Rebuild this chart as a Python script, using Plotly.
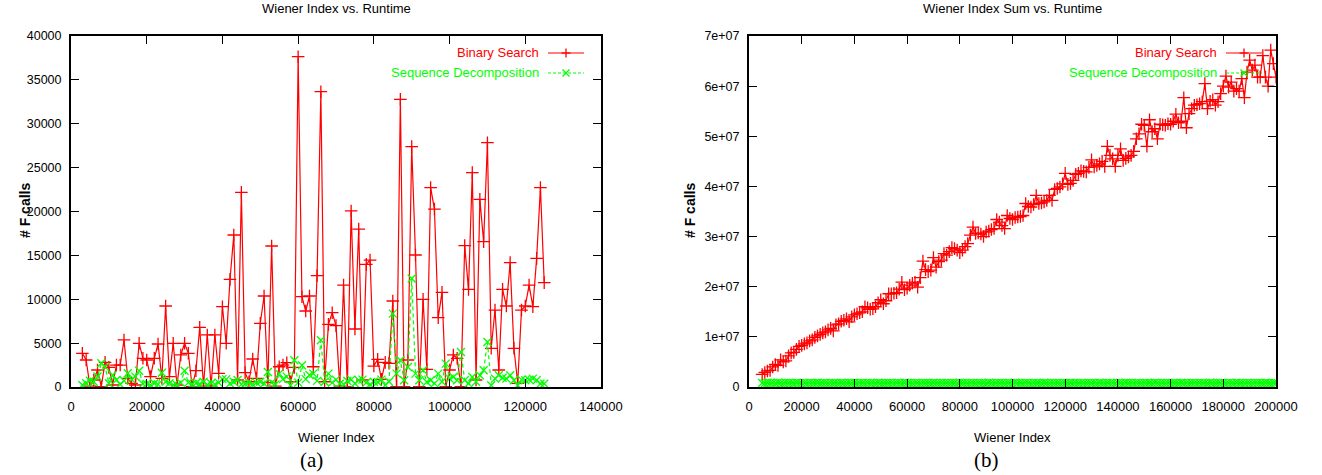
import plotly.graph_objects as go

# ---------------- data ----------------
# (a) Wiener Index vs. Runtime
wiener_a = [3000, 4000, 5000, 6000, 7000, 8000, 9000, 10000, 11000, 12000,
            13000, 14000, 15000, 16000, 17000, 18000, 19000, 20000, 21000, 22000,
            23000, 24000, 25000, 26000, 27000, 28000, 29000, 30000, 31000, 32000,
            33000, 34000, 35000, 36000, 37000, 38000, 39000, 40000, 41000, 42000,
            43000, 44000, 45000, 46000, 47000, 48000, 49000, 50000, 51000, 52000,
            53000, 54000, 55000, 56000, 57000, 58000, 59000, 60000, 61000, 62000,
            63000, 64000, 65000, 66000, 67000, 68000, 69000, 70000, 71000, 72000,
            73000, 74000, 75000, 76000, 77000, 78000, 79000, 80000, 81000, 82000,
            83000, 84000, 85000, 86000, 87000, 88000, 89000, 90000, 91000, 92000,
            93000, 94000, 95000, 96000, 97000, 98000, 99000, 100000, 101000, 102000,
            103000, 104000, 105000, 106000, 107000, 108000, 109000, 110000, 111000, 112000,
            113000, 114000, 115000, 116000, 117000, 118000, 119000, 120000, 121000, 122000,
            123000, 124000, 125000]
binary_a = [3840, 3077, 100, 800, 1940, 50, 2810, 2240, 230, 2500,
            2500, 5360, 990, 420, 230, 4980, 3270, 3077, 1180, 3270,
            4900, 990, 9230, 1180, 4980, 230, 3650, 4980, 3840, 50,
            1860, 6800, 100, 5930, 100, 5930, 1560, 9150, 4980, 12270,
            17320, 800, 22190, 1630, 600, 3190, 990, 7260, 10370, 490,
            16070, 110, 2310, 2500, 2770, 600, 2240, 37640, 10290, 8660,
            10370, 2310, 12690, 33650, 600, 7140, 8470, 6990, 100, 11620,
            50, 20060, 6610, 18000, 800, 13980, 14470, 2390, 3150, 870,
            2810, 2700, 9800, 50, 32780, 50, 3077, 27390, 15040, 50,
            9990, 2010, 22720, 20280, 7900, 10790, 50, 1940, 3650, 3270,
            50, 16110, 11130, 24430, 800, 21380, 16560, 27840, 4410, 8770,
            1940, 11130, 9230, 14170, 4410, 420, 8770, 9230, 11620, 9150,
            14660, 22720, 11890]
seqdec_a = [230, 420, 720, 600, 1200, 2700, 2300, 420, 1370, 800,
            300, 720, 1560, 870, 1180, 1860, 340, 340, 230, 420,
            300, 1630, 600, 420, 230, 230, 500, 1860, 500, 340,
            420, 340, 600, 250, 420, 300, 500, 900, 870, 400,
            600, 800, 300, 350, 500, 300, 500, 600, 400, 1710,
            500, 300, 1520, 900, 1180, 200, 3040, 500, 2470, 900,
            1370, 1520, 700, 5320, 600, 1520, 500, 840, 380, 300,
            680, 840, 400, 760, 840, 500, 300, 600, 570, 840,
            200, 600, 8360, 1520, 3040, 760, 2280, 12360, 1520, 760,
            1900, 570, 760, 400, 1520, 600, 2660, 950, 1140, 760,
            3990, 760, 400, 1140, 600, 1330, 1900, 5130, 190, 950,
            1330, 1060, 950, 1330, 760, 190, 840, 760, 840, 950,
            760, 380, 380]

# (b) Wiener Index Sum vs. Runtime
wiener_b = [5000, 6000, 7000, 8000, 9000, 10000, 11000, 12000, 13000, 14000,
            15000, 16000, 17000, 18000, 19000, 20000, 21000, 22000, 23000, 24000,
            25000, 26000, 27000, 28000, 29000, 30000, 31000, 32000, 33000, 34000,
            35000, 36000, 37000, 38000, 39000, 40000, 41000, 42000, 43000, 44000,
            45000, 46000, 47000, 48000, 49000, 50000, 51000, 52000, 53000, 54000,
            55000, 56000, 57000, 58000, 59000, 60000, 61000, 62000, 63000, 64000,
            65000, 66000, 67000, 68000, 69000, 70000, 71000, 72000, 73000, 74000,
            75000, 76000, 77000, 78000, 79000, 80000, 81000, 82000, 83000, 84000,
            85000, 86000, 87000, 88000, 89000, 90000, 91000, 92000, 93000, 94000,
            95000, 96000, 97000, 98000, 99000, 100000, 101000, 102000, 103000, 104000,
            105000, 106000, 107000, 108000, 109000, 110000, 111000, 112000, 113000, 114000,
            115000, 116000, 117000, 118000, 119000, 120000, 121000, 122000, 123000, 124000,
            125000, 126000, 127000, 128000, 129000, 130000, 131000, 132000, 133000, 134000,
            135000, 136000, 137000, 138000, 139000, 140000, 141000, 142000, 143000, 144000,
            145000, 146000, 147000, 148000, 149000, 150000, 151000, 152000, 153000, 154000,
            155000, 156000, 157000, 158000, 159000, 160000, 161000, 162000, 163000, 164000,
            165000, 166000, 167000, 168000, 169000, 170000, 171000, 172000, 173000, 174000,
            175000, 176000, 177000, 178000, 179000, 180000, 181000, 182000, 183000, 184000,
            185000, 186000, 187000, 188000, 189000, 190000, 191000, 192000, 193000, 194000,
            195000, 196000, 197000, 198000, 199000, 200000]
binary_b = [2.5e6, 2.9e6, 3.2e6, 3.3e6, 4.0e6, 4.5e6, 4.3e6, 5.4e6, 5.0e6, 5.2e6,
            6.2e6, 6.8e6, 6.9e6, 7.5e6, 8.1e6, 8.3e6, 8.6e6, 8.8e6, 9.2e6, 9.4e6,
            9.9e6, 1.02e7, 1.05e7, 1.08e7, 1.10e7, 1.14e7, 1.17e7, 1.12e7, 1.24e7, 1.26e7,
            1.31e7, 1.33e7, 1.36e7, 1.30e7, 1.40e7, 1.44e7, 1.46e7, 1.48e7, 1.50e7, 1.60e7,
            1.58e7, 1.55e7, 1.56e7, 1.60e7, 1.68e7, 1.74e7, 1.66e7, 1.72e7, 1.86e7, 1.86e7,
            1.87e7, 1.88e7, 1.95e7, 2.09e7, 1.94e7, 1.97e7, 2.03e7, 2.07e7, 2.09e7, 1.99e7,
            2.18e7, 2.51e7, 2.34e7, 2.30e7, 2.33e7, 2.58e7, 2.39e7, 2.50e7, 2.53e7, 2.66e7,
            2.63e7, 2.70e7, 2.78e7, 2.76e7, 2.73e7, 2.68e7, 2.73e7, 2.80e7, 2.86e7, 3.03e7,
            3.19e7, 3.06e7, 3.07e7, 3.05e7, 3.00e7, 3.09e7, 3.11e7, 3.14e7, 3.16e7, 3.34e7,
            3.29e7, 3.22e7, 3.16e7, 3.42e7, 3.36e7, 3.34e7, 3.38e7, 3.39e7, 3.40e7, 3.42e7,
            3.66e7, 3.60e7, 3.59e7, 3.64e7, 3.82e7, 3.66e7, 3.67e7, 3.69e7, 3.72e7, 3.82e7,
            3.72e7, 3.94e7, 3.96e7, 3.99e7, 4.05e7, 4.26e7, 4.04e7, 4.06e7, 4.12e7, 4.24e7,
            4.26e7, 4.31e7, 4.30e7, 4.29e7, 4.38e7, 4.53e7, 4.39e7, 4.42e7, 4.45e7, 4.50e7,
            4.40e7, 4.80e7, 4.62e7, 4.55e7, 4.40e7, 4.62e7, 4.75e7, 4.52e7, 4.56e7, 4.59e7,
            4.62e7, 4.70e7, 4.95e7, 5.05e7, 5.24e7, 5.22e7, 4.80e7, 5.33e7, 5.09e7, 5.15e7,
            4.95e7, 5.24e7, 5.23e7, 5.22e7, 5.25e7, 5.24e7, 5.30e7, 5.44e7, 5.27e7, 5.30e7,
            5.77e7, 5.17e7, 5.45e7, 5.55e7, 5.62e7, 5.63e7, 5.65e7, 5.69e7, 6.05e7, 5.55e7,
            5.70e7, 5.73e7, 5.62e7, 5.69e7, 5.85e7, 6.00e7, 6.20e7, 5.98e7, 6.08e7, 5.90e7,
            5.95e7, 5.90e7, 6.15e7, 5.77e7, 6.28e7, 6.52e7, 6.32e7, 6.42e7, 6.18e7, 6.18e7,
            6.61e7, 6.18e7, 6.00e7, 6.72e7, 6.45e7, 6.18e7]
seqdec_b = [8.1e5, 7.6e5, 8.4e5, 7.9e5, 8.2e5, 7.7e5, 8.5e5, 8.0e5, 7.8e5, 8.3e5,
            7.9e5, 8.1e5, 7.6e5, 8.4e5, 8.0e5, 7.8e5, 8.2e5, 7.7e5, 8.3e5, 7.9e5,
            8.1e5, 8.4e5, 7.6e5, 8.0e5, 8.2e5, 7.8e5, 8.3e5, 7.9e5, 8.1e5, 7.7e5,
            8.4e5, 8.0e5, 7.8e5, 8.2e5, 7.9e5, 8.5e5, 7.7e5, 8.1e5, 8.0e5, 7.8e5,
            8.3e5, 7.9e5, 8.2e5, 7.6e5, 8.4e5, 8.0e5, 7.8e5, 8.1e5, 7.9e5, 8.3e5,
            7.7e5, 8.2e5, 8.0e5, 7.8e5, 8.4e5, 7.9e5, 8.1e5, 7.7e5, 8.3e5, 8.0e5,
            7.8e5, 8.2e5, 7.9e5, 8.1e5, 7.6e5, 8.4e5, 8.0e5, 7.8e5, 8.2e5, 7.9e5,
            8.3e5, 7.7e5, 8.1e5, 8.0e5, 7.8e5, 8.4e5, 7.9e5, 8.2e5, 7.7e5, 8.1e5,
            8.0e5, 7.8e5, 8.3e5, 7.9e5, 8.2e5, 7.6e5, 8.4e5, 8.0e5, 7.8e5, 8.1e5,
            7.9e5, 8.3e5, 7.7e5, 8.2e5, 8.0e5, 7.8e5, 8.4e5, 7.9e5, 8.1e5, 7.7e5,
            8.3e5, 8.0e5, 7.8e5, 8.2e5, 7.9e5, 8.1e5, 7.6e5, 8.4e5, 8.0e5, 7.8e5,
            8.2e5, 7.9e5, 8.3e5, 7.7e5, 8.1e5, 8.0e5, 7.8e5, 8.4e5, 7.9e5, 8.2e5,
            7.7e5, 8.1e5, 8.0e5, 7.8e5, 8.3e5, 7.9e5, 8.2e5, 7.6e5, 8.4e5, 8.0e5,
            7.8e5, 8.1e5, 7.9e5, 8.3e5, 7.7e5, 8.2e5, 8.0e5, 7.8e5, 8.4e5, 7.9e5,
            8.1e5, 7.7e5, 8.3e5, 8.0e5, 7.8e5, 8.2e5, 7.9e5, 8.1e5, 7.6e5, 8.4e5,
            8.0e5, 7.8e5, 8.2e5, 7.9e5, 8.3e5, 7.7e5, 8.1e5, 8.0e5, 7.8e5, 8.4e5,
            7.9e5, 8.2e5, 7.7e5, 8.1e5, 8.0e5, 7.8e5, 8.3e5, 7.9e5, 8.2e5, 7.6e5,
            8.4e5, 8.0e5, 7.8e5, 8.1e5, 7.9e5, 8.3e5, 7.7e5, 8.2e5, 8.0e5, 7.8e5,
            8.4e5, 7.9e5, 8.1e5, 7.7e5, 8.3e5, 8.0e5, 7.8e5, 8.2e5, 7.9e5, 8.1e5,
            7.6e5, 8.4e5, 8.0e5, 7.8e5, 8.2e5, 7.9e5]

titles = ["Wiener Index vs. Runtime", "Wiener Index Sum vs. Runtime"]
series_names = ["Binary Search", "Sequence Decomposition"]
x_label = "Wiener Index"
y_label = "# F calls"
panel_labels = ["(a)", "(b)"]
yticks_b = [0, 1e7, 2e7, 3e7, 4e7, 5e7, 6e7, 7e7]
yticktext_b = ["0", "1e+07", "2e+07", "3e+07", "4e+07", "5e+07", "6e+07", "7e+07"]

# ---------------- styling ----------------
W, H = 1322, 475
RED = "#ff0000"
GREEN = "#00ff00"
SANS = "Liberation Sans, Arial, Helvetica, sans-serif"
SERIF = "Liberation Serif, Times New Roman, serif"
FS = 13
GDASH = "4px,3px"

def PX(x):
    return x / W

def PY(y):
    return 1 - y / H

fig = go.Figure()

def add_series(x, y, xa, ya, color, symbol, dash, size):
    fig.add_trace(go.Scatter(
        x=x, y=y, xaxis=xa, yaxis=ya, mode="lines+markers",
        line=dict(color=color, width=1.2, dash=dash),
        marker=dict(symbol=symbol, size=size, color=color,
                    line=dict(color=color, width=1.3)),
        showlegend=False, hoverinfo="skip"))

add_series(wiener_a, binary_a, "x", "y", RED, "cross-thin", "solid", 9)
add_series(wiener_a, seqdec_a, "x", "y", GREEN, "x-thin", GDASH, 8)
add_series(wiener_b, binary_b, "x2", "y2", RED, "cross-thin", "solid", 9)
add_series(wiener_b, seqdec_b, "x2", "y2", GREEN, "x-thin", GDASH, 8)

common = dict(showline=True, linecolor="black", linewidth=2, mirror="allticks",
              ticks="inside", ticklen=8, tickwidth=1.3, tickcolor="black",
              showgrid=False, zeroline=False, automargin=False)
xfont = dict(family=SANS, size=FS, color="black")
yfont = dict(family=SANS, size=12.5, color="black")

dom_a = [PX(71), PX(601)]
dom_b = [PX(749), PX(1276)]
dom_y = [PY(387), PY(36)]

fig.update_layout(
    template="none",
    width=W, height=H, margin=dict(l=0, r=0, t=0, b=0, pad=0),
    paper_bgcolor="white", plot_bgcolor="white", showlegend=False,
    xaxis=dict(domain=dom_a, range=[0, 140000], tickmode="linear", tick0=0, dtick=20000,
               tickformat="d", anchor="y", tickfont=xfont, ticklabelstandoff=6, **common),
    yaxis=dict(domain=dom_y, range=[0, 40000], tickmode="linear", tick0=0, dtick=5000,
               tickformat="d", anchor="x", tickfont=yfont, ticklabelstandoff=5, **common),
    xaxis2=dict(domain=dom_b, range=[0, 200000], tickmode="linear", tick0=0, dtick=20000,
                tickformat="d", anchor="y2", tickfont=xfont, ticklabelstandoff=6, **common),
    yaxis2=dict(domain=dom_y, range=[0, 7e7], tickmode="array", tickvals=yticks_b,
                ticktext=yticktext_b, anchor="x2", tickfont=yfont, ticklabelstandoff=5,
                **common),
)

ann = []
shapes = []
for i, (cx, lx, ylx, lab_x) in enumerate([(336, 541, 25, 311), (1012, 1219, 690, 986)]):
    ann.append(dict(text=titles[i], x=PX(cx), y=PY(9), xref="paper", yref="paper",
                    xanchor="center", yanchor="middle", showarrow=False,
                    font=dict(family=SANS, size=FS, color="black")))
    ann.append(dict(text=x_label, x=PX(cx), y=PY(437), xref="paper", yref="paper",
                    xanchor="center", yanchor="middle", showarrow=False,
                    font=dict(family=SANS, size=FS, color="black")))
    ann.append(dict(text="<b>" + y_label + "</b>", x=PX(ylx), y=PY(211), xref="paper", yref="paper",
                    xanchor="center", yanchor="middle", showarrow=False, textangle=-90,
                    font=dict(family=SANS, size=14, color="black")))
    ann.append(dict(text=panel_labels[i], x=PX(lab_x), y=PY(460), xref="paper", yref="paper",
                    xanchor="center", yanchor="middle", showarrow=False,
                    font=dict(family=SERIF, size=21, color="black")))
    # legend (gnuplot style: text then sample)
    for j, (col, py) in enumerate([(RED, 53), (GREEN, 73)]):
        ann.append(dict(text=series_names[j], x=PX(lx), y=PY(py), xref="paper", yref="paper",
                        xanchor="right", yanchor="middle", showarrow=False,
                        font=dict(family=SANS, size=FS, color=col)))
        x0, x1 = lx + 7, lx + 43
        xm = (x0 + x1) / 2
        shapes.append(dict(type="line", xref="paper", yref="paper",
                           x0=PX(x0), x1=PX(x1), y0=PY(py), y1=PY(py),
                           line=dict(color=col, width=1.2, dash="solid" if j == 0 else "3px,2px")))
        if j == 0:
            shapes.append(dict(type="line", xref="paper", yref="paper",
                               x0=PX(xm - 4.5), x1=PX(xm + 4.5), y0=PY(py), y1=PY(py),
                               line=dict(color=col, width=1.3)))
            shapes.append(dict(type="line", xref="paper", yref="paper",
                               x0=PX(xm), x1=PX(xm), y0=PY(py - 4.5), y1=PY(py + 4.5),
                               line=dict(color=col, width=1.3)))
        else:
            shapes.append(dict(type="line", xref="paper", yref="paper",
                               x0=PX(xm - 3.5), x1=PX(xm + 3.5), y0=PY(py - 3.5), y1=PY(py + 3.5),
                               line=dict(color=col, width=1.3)))
            shapes.append(dict(type="line", xref="paper", yref="paper",
                               x0=PX(xm - 3.5), x1=PX(xm + 3.5), y0=PY(py + 3.5), y1=PY(py - 3.5),
                               line=dict(color=col, width=1.3)))

fig.update_layout(annotations=ann, shapes=shapes)
fig.write_html("out.html", config={"displayModeBar": False},
               post_script="document.body.style.margin='0';document.body.style.padding='0';")
